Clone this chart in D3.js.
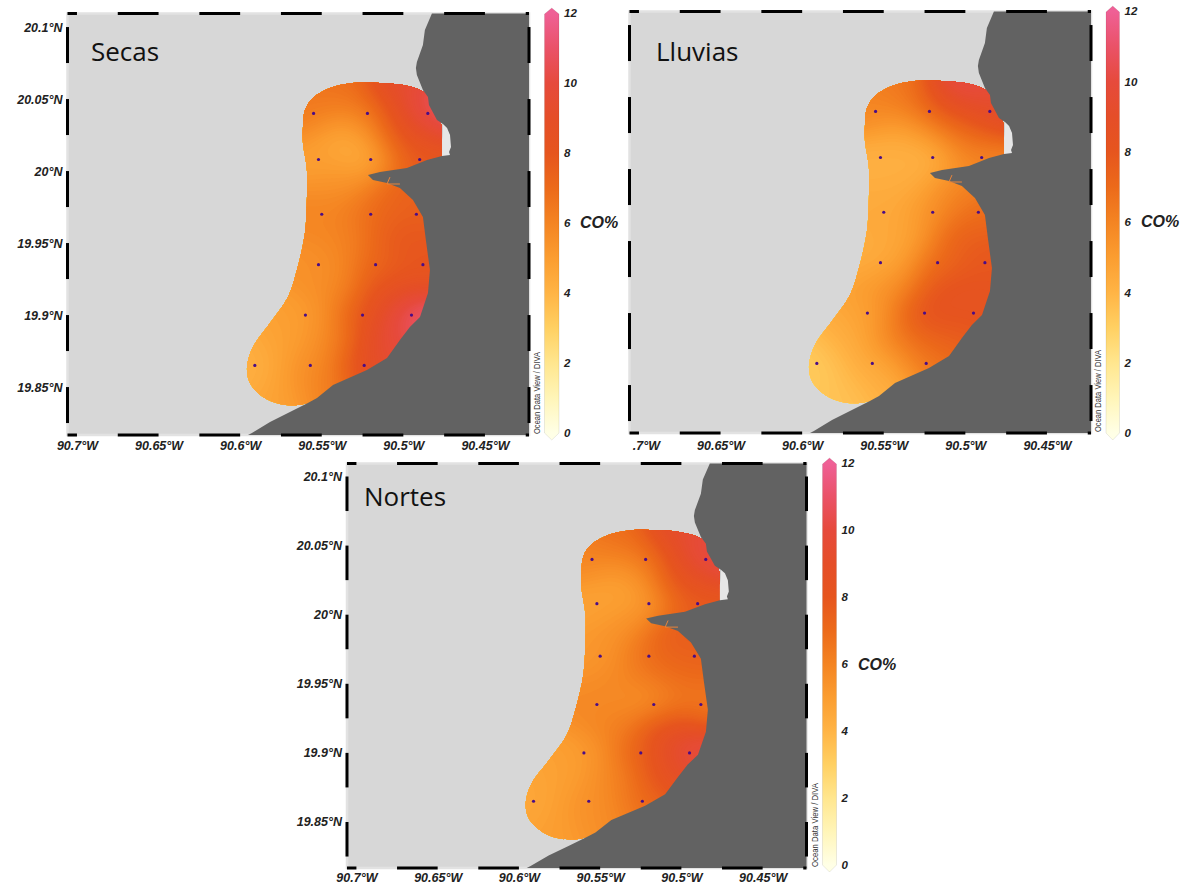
<!DOCTYPE html>
<html><head><meta charset="utf-8">
<script src="https://cdn.jsdelivr.net/npm/d3@7"></script>
<style>html,body{margin:0;background:#fff}svg{display:block}</style></head>
<body><svg id="c" width="1186" height="886"></svg>
<script>
// ---- data (degrees West, degrees North; CO %) ----
const stationLon=[90.555,90.522,90.485,90.552,90.520,90.490,90.550,90.520,90.492,90.552,90.517,90.488,90.560,90.525,90.495,90.591,90.557,90.524];
const stationLat=[20.040,20.040,20.040,20.008,20.008,20.008,19.970,19.970,19.970,19.935,19.935,19.935,19.900,19.900,19.900,19.865,19.865,19.865];
const secasCO=[6.5,6.5,11,5,4.2,8,6,7,7.5,5.5,7,8,5,8,11.5,4.2,5.5,9];
const lluviasCO=[6,7.5,9.5,4.2,4,6,4.5,5.5,7,4.3,6.8,8,4.8,8.5,8.3,3.2,4.5,6.5];
const nortesCO=[6,6.5,10.5,4.8,5,7.8,5.2,7,7.5,5.8,5.2,6.5,5,7.5,10.5,4.6,5.5,7];
// additional readings of the mapped field between stations
const readLon=[90.5388,90.5051,90.5358,90.5021,90.5358,90.5051,90.5358,90.5021,90.5419,90.5082,90.5725,90.5419,90.5082,90.5725,90.5480];
const readLat=[20.0563,20.0576,20.025,20.025,19.9903,19.9868,19.9521,19.9521,19.9174,19.9174,19.8826,19.8826,19.8826,19.8444,19.8514];
const secasRead=[6.8,9.5,4.2,8,5.5,7.5,6,8.2,5.8,8.5,4.8,6,10,4.8,6.5];
const lluviasRead=[6.5,10.5,4.3,7,4.3,6,4.6,7.8,5.8,8.5,4.3,6.5,7.5,3.5,4.3];
const nortesRead=[7,9.5,4.7,8.2,5.5,8,6,7,6.2,9,4.8,6,8.5,5,5.8];
const landLon=[90.4825,90.4868,90.4880,90.4917,90.4923,90.4917,90.4880,90.4849,90.4843,90.4794,90.4757,90.4763,90.4855,90.4978,90.5143,90.5217,90.5186,90.5100,90.5021,90.4941,90.4880,90.4862,90.4837,90.4849,90.4898,90.4960,90.5021,90.5100,90.5223,90.5431,90.5529,90.5585,90.5695,90.5817,90.5928,90.5952];
const landLat=[20.1094,20.0979,20.0875,20.0757,20.0715,20.0667,20.0563,20.0514,20.0458,20.0354,20.0326,20.0104,20.0076,20.0021,19.9993,19.9972,19.9938,19.9917,19.9882,19.9799,19.9681,19.9521,19.9312,19.9153,19.8986,19.8917,19.8826,19.8701,19.8618,19.8514,19.8424,19.8389,19.8326,19.8257,19.8181,19.8167];
const stripLon=[90.4757,90.4732,90.4714,90.4708,90.4720,90.4714,90.4763,90.4763];
const stripLat=[20.0326,20.0299,20.0250,20.0167,20.0132,20.0111,20.0104,20.0215];
const riverLon=[90.5082,90.5100,90.5021];
const riverLat=[19.9958,19.9910,19.9910];
const regionLon=[90.4763,90.4770,90.4794,90.4849,90.4898,90.5002,90.5143,90.5309,90.5450,90.5554,90.5603,90.5615,90.5615,90.5591,90.5591,90.5603,90.5652,90.5707,90.5817,90.5922,90.5958,90.5940,90.5860,90.5756,90.5646,90.5560,90.5388,90.4837,90.4776];
const regionLat=[20.0104,20.0333,20.0424,20.0528,20.0563,20.0597,20.0611,20.0611,20.0576,20.0507,20.0424,20.0306,20.0194,20.0007,19.9799,19.9569,19.9312,19.9125,19.8944,19.8778,19.8639,19.8528,19.8431,19.8382,19.8375,19.8396,19.8444,19.8896,19.9799];
const lonTicks=[90.7,90.65,90.6,90.55,90.5,90.45];
const latTicks=[20.1,20.05,20,19.95,19.9,19.85];
const lonDashStart=[90.7058,90.675,90.625,90.575,90.525,90.475,90.425];
const lonDashEnd=[90.7,90.65,90.6,90.55,90.5,90.45,90.423];
const latDashStart=[20.1,20.05,20,19.95,19.9,19.85];
const latDashEnd=[20.075,20.025,19.975,19.925,19.875,19.825];
const barTicks=[0,2,4,6,8,10,12];
const colorValues=[0,1,2,3,4,5,6,7,8,9,10,11,12];
const colorHex=["#ffffe6","#fff5b8","#ffe68e","#ffd062","#ffb445","#fb9d30","#f48422","#ec6a1a","#e6551e","#e54e28","#e64a3c","#ea5268","#ef6096"];
// ---- layout ----
const panels=[
 {name:"Secas",co:secasCO,read:secasRead,x:[67.5,529],y:[13.5,435],bar:[544.5,559],barY:[433,13],cb:[580,222],title:[91,61],latLabels:true,labY:445,odv:537},
 {name:"Lluvias",co:lluviasCO,read:lluviasRead,x:[629.5,1091],y:[11.5,433],bar:[1106,1119.5],barY:[433,11],cb:[1141,221],title:[656,61],latLabels:false,labY:445,odv:1098},
 {name:"Nortes",co:nortesCO,read:nortesRead,x:[347,806.5],y:[463.5,868],bar:[822.5,836.5],barY:[865,463],cb:[858,664],title:[364,506],latLabels:true,labY:877,odv:815}
];
const LON=[90.7058,90.423],LAT=[20.1094,19.8167];
const color=d3.scaleLinear().domain(colorValues).range(colorHex).clamp(true);
const svg=d3.select("#c");
const defs=svg.append("defs");
const SANS="'Liberation Sans',Arial,sans-serif";
const allLon=stationLon.concat(readLon),allLat=stationLat.concat(readLat);
const SIG=0.0135,CELL=2.5;
panels.forEach((p,pi)=>{
  const sx=d3.scaleLinear().domain(LON).range(p.x);
  const sy=d3.scaleLinear().domain(LAT).range(p.y);
  const g=svg.append("g").attr("class","panel-"+p.name);
  const W=p.x[1]-p.x[0],H=p.y[1]-p.y[0];
  g.append("rect").attr("x",p.x[0]).attr("y",p.y[0]).attr("width",W).attr("height",H).attr("fill","#d7d7d7").attr("stroke","#e2e2e2").attr("stroke-width",2.5);
  // gridded field
  const vals=p.co.concat(p.read);
  const nx=Math.ceil(W/CELL)+1,ny=Math.ceil(H/CELL)+1;
  const grid=new Float64Array(nx*ny);
  for(let j=0;j<ny;j++){const la=sy.invert(p.y[0]+j*CELL);
    for(let i=0;i<nx;i++){const lo=sx.invert(p.x[0]+i*CELL);
      let a=0,b=0;
      for(let k=0;k<vals.length;k++){const dx=(lo-allLon[k]),dy=(la-allLat[k]);
        const w=Math.exp(-(dx*dx+dy*dy)/(2*SIG*SIG))+1e-9;a+=w*vals[k];b+=w;}
      grid[j*nx+i]=a/b;}}
  const cs=d3.contours().size([nx,ny]).thresholds(d3.range(0,12.01,0.1))(grid);
  const gp=d3.geoPath(d3.geoTransform({point(x,y){this.stream.point(p.x[0]+(x-0.5)*CELL,p.y[0]+(y-0.5)*CELL);}}));
  const cid="clip"+pi;
  const regionLine=d3.line().x(i=>sx(regionLon[i])).y(i=>sy(regionLat[i])).curve(d3.curveCatmullRomClosed.alpha(0.5));
  defs.append("clipPath").attr("id",cid).append("path").attr("d",regionLine(d3.range(regionLon.length)));
  g.append("g").attr("clip-path",`url(#${cid})`).selectAll("path").data(cs).join("path")
    .attr("d",gp).attr("fill",d=>color(d.value));
  // land
  const landIdx=d3.range(landLon.length);
  const ln=d3.line().x(i=>sx(landLon[i])).y(i=>sy(landLat[i]));
  const tail=`L${sx(LON[0]+(90.5952-LON[0]))},${p.y[1]}L${p.x[1]},${p.y[1]}L${p.x[1]},${p.y[0]}Z`;
  g.append("path").attr("d",ln(landIdx)+tail).attr("fill","#626262");
  g.append("path").attr("d",d3.line().x(i=>sx(stripLon[i])).y(i=>sy(stripLat[i]))(d3.range(stripLon.length))+"Z").attr("fill","#e6e6e6");
  g.append("path").attr("d",d3.line().x(i=>sx(riverLon[i])).y(i=>sy(riverLat[i]))(d3.range(riverLon.length))).attr("fill","none").attr("stroke","#e8843a").attr("stroke-width",1);
  // stations
  g.append("g").selectAll("circle").data(d3.range(stationLon.length)).join("circle")
    .attr("cx",i=>sx(stationLon[i])).attr("cy",i=>sy(stationLat[i])).attr("r",1.6).attr("fill","#4a0c86");
  // frame dashes
  const dash=g.append("g").attr("stroke","#000").attr("stroke-width",3);
  [p.y[0],p.y[1]].forEach(y=>dash.append("g").selectAll("line").data(lonDashStart.map((d,i)=>[d,lonDashEnd[i]])).join("line")
    .attr("x1",d=>sx(d[0])).attr("x2",d=>sx(d[1])).attr("y1",y).attr("y2",y));
  [p.x[0],p.x[1]].forEach(x=>dash.append("g").selectAll("line").data(latDashStart.map((d,i)=>[d,latDashEnd[i]])).join("line")
    .attr("y1",d=>sy(d[0])).attr("y2",d=>sy(d[1])).attr("x1",x).attr("x2",x));
  // axes
  const style=s=>{s.select(".domain").remove();s.selectAll("line").remove();
    s.selectAll("text").attr("font-family",SANS).attr("font-weight","bold").attr("font-style","italic").attr("font-size",12.5).attr("fill","#222");};
  const xa=d3.axisBottom(sx).tickValues(lonTicks).tickSize(0).tickPadding(0)
    .tickFormat(d=>(pi===1&&d===90.7)?".7°W":d+"°W");
  const xg=g.append("g").attr("transform",`translate(0,${p.labY-5})`).call(xa).call(style);
  xg.selectAll("text").attr("y",0).attr("dy","0.8em").attr("dx",d=>(pi===1&&d===90.7)?7:0);
  if(p.latLabels){
    const ya=d3.axisLeft(sy).tickValues(latTicks).tickSize(0).tickPadding(0).tickFormat(d=>d+"°N");
    g.append("g").attr("transform",`translate(${p.x[0]-5},0)`).call(ya).call(style);
  }
  // colour bar
  const sb=d3.scaleLinear().domain([0,12]).range(p.barY);
  const gid="grad"+pi;
  const gr=defs.append("linearGradient").attr("id",gid).attr("gradientUnits","userSpaceOnUse")
    .attr("x1",0).attr("x2",0).attr("y1",sb(0)).attr("y2",sb(12));
  colorValues.forEach(v=>gr.append("stop").attr("offset",v/12).attr("stop-color",color(v)));
  const [b0,b1]=p.bar,tipT=sb(12)-5,tipB=sb(0)+7,sh=sb(12)+1,sl=sb(0);
  const top=defs.select("#"+gid);
  g.append("path").attr("d",`M${b0},${sh}L${(b0+b1)/2},${tipT}L${b1},${sh}L${b1},${sl}L${(b0+b1)/2},${tipB}L${b0},${sl}Z`)
    .attr("fill",`url(#${gid})`).attr("stroke","#000").attr("stroke-opacity",.12).attr("stroke-width",.7);
  const ba=d3.axisRight(sb).tickValues(barTicks).tickSize(0).tickPadding(0);
  const bg=g.append("g").attr("transform",`translate(${b1+5},0)`).call(ba);
  bg.select(".domain").remove();bg.selectAll("line").remove();
  bg.selectAll("text").attr("font-family",SANS).attr("font-weight","bold").attr("font-style","italic").attr("font-size",11.5).attr("fill","#222");
  g.append("text").attr("x",p.cb[0]).attr("y",p.cb[1]).attr("dy","0.35em").text("CO%")
    .attr("font-family",SANS).attr("font-weight","bold").attr("font-style","italic").attr("font-size",16).attr("fill","#222");
  g.append("text").text("Ocean Data View / DIVA").attr("transform",`translate(${p.odv+3},${p.y[1]-1}) rotate(-90)`)
    .attr("font-family",SANS).attr("font-size",8.5).attr("textLength",pi===2?84:82).attr("lengthAdjust","spacingAndGlyphs").attr("fill","#333");
  g.append("text").attr("x",p.title[0]).attr("y",p.title[1]).text(p.name)
    .attr("font-family","'Open Sans',sans-serif").attr("font-size",26).attr("fill","#111");
});
</script></body></html>
